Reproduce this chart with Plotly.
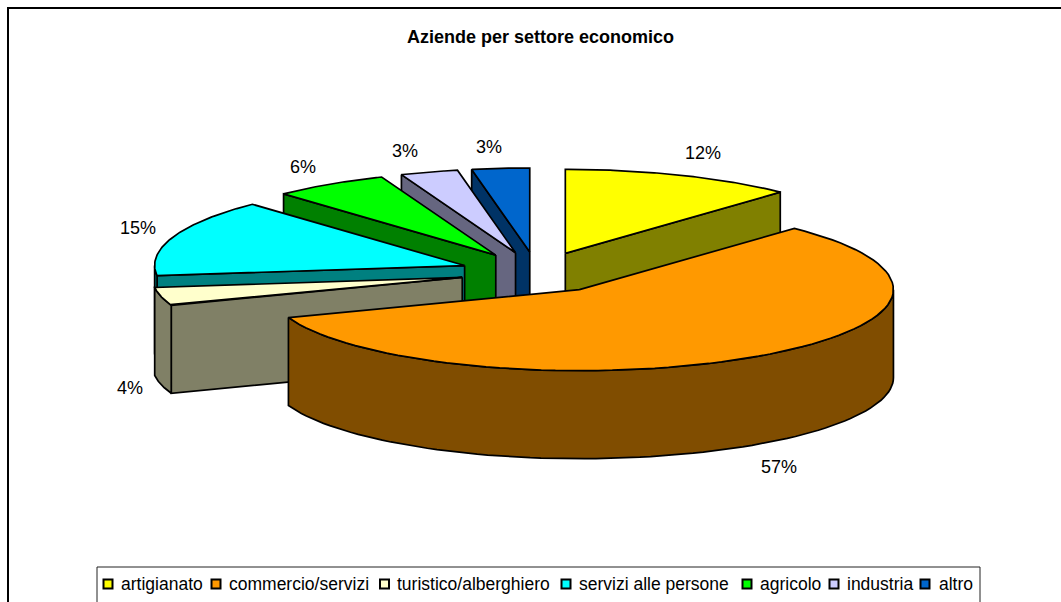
import numpy as np
import plotly.graph_objects as go

# ---- data ----
categories = ["artigianato", "commercio/servizi", "turistico/alberghiero",
              "servizi alle persone", "agricolo", "industria", "altro"]
values = [12, 57.4, 3.6, 15, 6, 3, 3]
title = "Aziende per settore economico"

# ---- styling / layout constants (page pixels) ----
top_colors = ["#FFFF00", "#FF9900", "#FFFFCC", "#00FFFF", "#00FF00", "#CCCCFF", "#0066CC"]
side_colors = ["#808000", "#804D00", "#808066", "#008080", "#008000", "#666680", "#003366"]
W, H = 1061, 602
CX, CY, PULL, DEPTH = 537, 272.5, 0.245, 88
RX_RIGHT, RX_LEFT, RY_BACK, RY_FRONT = 314, 310, 84, 81
FONT = "Liberation Sans, Arial, sans-serif"
label_pos = [(703, 153), (779, 467), (130, 388), (138, 228), (303, 167), (405, 151), (489, 147)]
legend_swatch_x = [108, 216, 384.5, 566, 747, 834, 925]
legend_text_x = [120, 228, 396, 578, 759, 846, 938]
paint_order = [6, 5, 4, 3, 2, 0, 1]

total = sum(values)
edges = np.cumsum([0] + values) / total * 360.0


def pt(theta, ox, oy):
    t = np.radians(theta)
    s, c = np.sin(t), np.cos(t)
    return ox + np.where(s < 0, RX_LEFT, RX_RIGHT) * s, oy - np.where(c < 0, RY_FRONT, RY_BACK) * c


fig = go.Figure()


def poly(xs, ys, color, name):
    fig.add_trace(go.Scatter(x=list(xs), y=list(ys), mode="lines", fill="toself", fillcolor=color,
                             line=dict(color="black", width=1.7), name=name, hoverinfo="name",
                             showlegend=False))


for i in paint_order:
    a0, a1 = edges[i], edges[i + 1]
    mid = np.radians((a0 + a1) / 2)
    ox = CX + PULL * RX_RIGHT * np.sin(mid)
    oy = CY - PULL * RY_BACK * np.cos(mid)
    name = categories[i]

    # radial side wall that faces the viewer
    side = a1 if a1 <= 180 else (a0 if a0 >= 180 else None)
    if side is not None:
        ex, ey = pt(side, ox, oy)
        ex, ey = float(ex), float(ey)
        poly([ox, ex, ex, ox, ox], [oy, ey, ey + DEPTH, oy + DEPTH, oy], side_colors[i], name)

    # outer rim (front half of the ellipse only)
    w0, w1 = max(a0, 90), min(a1, 270)
    if w1 > w0:
        th = np.linspace(w0, w1, 80)
        x, y = pt(th, ox, oy)
        poly(np.r_[x, x[::-1], x[0]], np.r_[y, y[::-1] + DEPTH, y[0]], side_colors[i], name)

    # top face
    th = np.linspace(a0, a1, 80)
    x, y = pt(th, ox, oy)
    poly(np.r_[ox, x, ox], np.r_[oy, y, oy], top_colors[i], name)

# legend swatches
fig.add_trace(go.Scatter(x=legend_swatch_x, y=[584] * len(categories), mode="markers",
                         marker=dict(symbol="square", size=9, color=top_colors,
                                     line=dict(color="black", width=2)),
                         text=categories, hoverinfo="text", showlegend=False))

ann = [dict(x=540, y=37, text=f"<b>{title}</b>", showarrow=False, xanchor="center", yanchor="middle",
            font=dict(family=FONT, size=18, color="black"))]
for v, (lx, ly) in zip(values, label_pos):
    ann.append(dict(x=lx, y=ly, text=f"{round(v / total * 100)}%", showarrow=False,
                    xanchor="center", yanchor="middle", font=dict(family=FONT, size=18, color="black")))
for c, tx in zip(categories, legend_text_x):
    ann.append(dict(x=tx, y=584, text=c, showarrow=False, xanchor="left", yanchor="middle",
                    xshift=-1, font=dict(family=FONT, size=17.5, color="black")))

shapes = [
    dict(type="line", x0=7.5, x1=W + 5, y0=8, y1=8, line=dict(color="black", width=2), layer="below"),
    dict(type="line", x0=8, x1=8, y0=7, y1=H + 5, line=dict(color="black", width=2), layer="below"),
    dict(type="rect", x0=97, x1=980, y0=567, y1=H + 10, line=dict(color="#222222", width=1), layer="below"),
]

fig.update_layout(
    width=W, height=H, margin=dict(l=0, r=0, t=0, b=0),
    paper_bgcolor="white", plot_bgcolor="white",
    xaxis=dict(range=[0, W], visible=False, fixedrange=True),
    yaxis=dict(range=[H, 0], visible=False, fixedrange=True),
    annotations=ann, shapes=shapes, showlegend=False,
)
fig.write_html("out.html", config={"displayModeBar": False},
               post_script="document.body.style.margin='0';document.body.style.overflow='hidden';")
